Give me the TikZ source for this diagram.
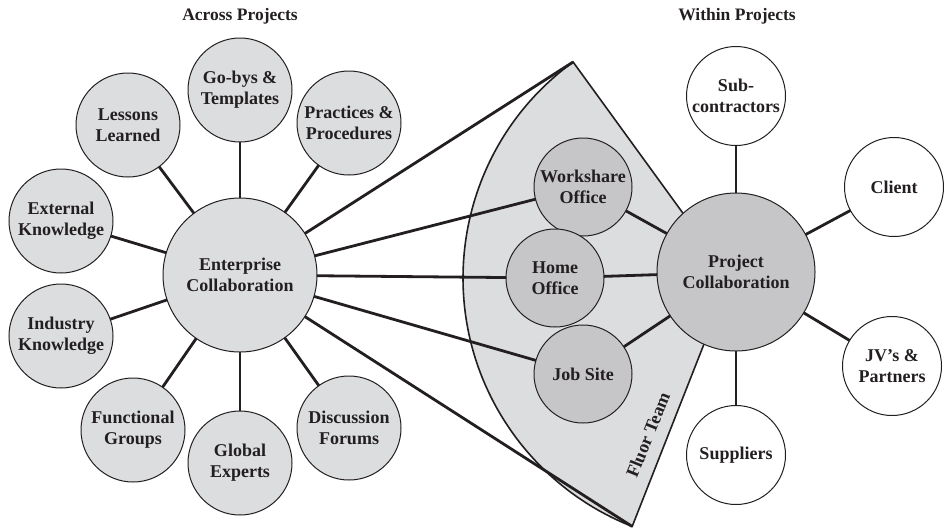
\documentclass[tikz,border=0pt]{standalone}
\usepackage{fontspec}
\setmainfont{Liberation Serif}
\usetikzlibrary{calc}
\definecolor{inkc}{HTML}{231F20}
\definecolor{lightfill}{HTML}{DCDDDF}
\definecolor{darkfill}{HTML}{C6C6C8}
\tikzset{
  bub/.style={circle, draw=inkc, line width=1pt, inner sep=0pt, outer sep=0pt, align=center,
    text=inkc, font=\fontsize{18}{21}\selectfont\bfseries},
  bigL/.style={bub, fill=lightfill, minimum size=154pt},
  smallL/.style={bub, fill=lightfill, minimum size=104pt},
  inner/.style={bub, fill=darkfill, minimum size=98pt},
  bigD/.style={bub, fill=darkfill, minimum size=158pt},
  outerW/.style={bub, fill=white, minimum size=99pt},
  conn/.style={draw=inkc, line width=2.8pt},
  fanshape/.style={draw=inkc, line width=1.6pt, fill=lightfill, line join=miter},
  header/.style={text=inkc, font=\fontsize{17.5}{20}\selectfont\bfseries},
}
\begin{document}
\begin{tikzpicture}[x=1pt, y=-1pt]
\useasboundingbox (0,0) rectangle (944,528);
% fan
\coordinate (fanC) at (730,278);
\coordinate (fanT) at (573.1,62.0);
\coordinate (fanB) at (632.1,526.4);
\path[fanshape] (fanC) -- (fanT) arc[start angle=126, end angle=248.5, radius=267pt] -- cycle;
\node[rotate=68, text=inkc, font=\fontsize{18}{20}\selectfont\bfseries, inner sep=0pt] (fluor) at (648,435) {Fluor Team};
% headers
\node[header] (hA) at (240,16) {Across Projects};
\node[header] (hW) at (737,16) {Within Projects};
% left cluster
\node[bigL] (EC) at (240,275) {Enterprise\\Collaboration};
\node[smallL] (GB) at (240,90) {Go-bys \&\\Templates};
\node[smallL] (LL) at (128,125) {Lessons\\Learned};
\node[smallL] (PP) at (349,123) {Practices \&\\Procedures};
\node[smallL] (EK) at (61,221) {External\\Knowledge};
\node[smallL] (IK) at (61,336) {Industry\\Knowledge};
\node[smallL] (FG) at (133,430) {Functional\\Groups};
\node[smallL] (GE) at (240,463) {Global\\Experts};
\node[smallL] (DF) at (349,428) {Discussion\\Forums};
% fan nodes
\node[inner] (WO) at (583,187) {Workshare\\Office};
\node[inner] (HO) at (555,278) {Home\\Office};
\node[inner] (JS) at (583,374) {Job Site};
% right cluster
\node[bigD] (PC) at (736,272) {Project\\Collaboration};
\node[outerW] (SC) at (736,96) {Sub-\\contractors};
\node[outerW] (CL) at (894,187) {Client};
\node[outerW] (JV) at (892,366) {JV’s \&\\Partners};
\node[outerW] (SU) at (736,455) {Suppliers};
% connectors
\foreach \n in {GB,LL,PP,EK,IK,FG,GE,DF,WO,HO,JS} {\draw[conn] (EC) -- (\n);}
\draw[conn] (EC) -- (fanT);
\draw[conn] (EC) -- (fanB);
\foreach \n in {WO,HO,JS,SC,CL,JV,SU} {\draw[conn] (PC) -- (\n);}
\end{tikzpicture}
\end{document}
